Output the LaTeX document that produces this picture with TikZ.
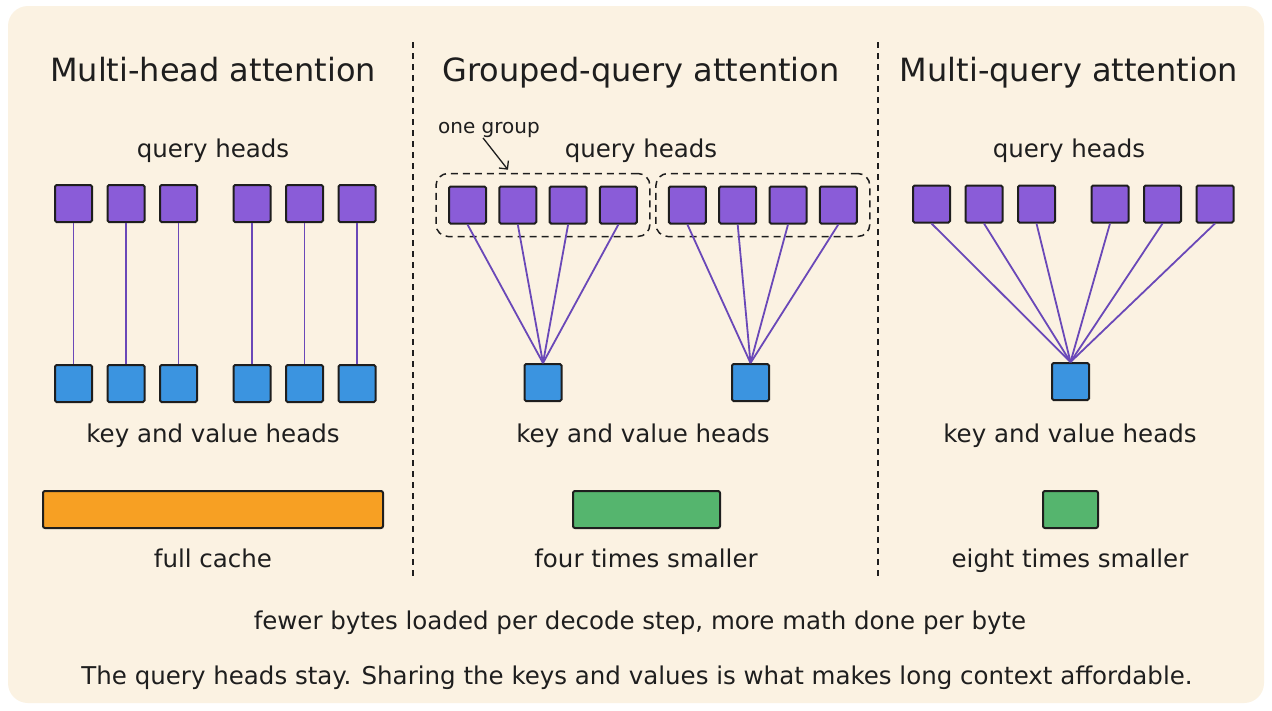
\documentclass[tikz,border=0pt]{standalone}
\usepackage{fontspec}
\setmainfont{DejaVu Sans}
\usetikzlibrary{arrows.meta,positioning,fit}

\definecolor{panelc}{HTML}{FBF2E2}
\definecolor{qheadc}{HTML}{8A5CD8}
\definecolor{kvheadc}{HTML}{3B94E0}
\definecolor{linkc}{HTML}{6A48B8}
\definecolor{fullc}{HTML}{F7A023}
\definecolor{smallc}{HTML}{55B56E}
\definecolor{inkc}{HTML}{1E1E1E}

\begin{document}
\begin{tikzpicture}[x=1pt, y=-1pt,
		qh/.style={draw=inkc, fill=qheadc, line width=2pt, rounded corners=1.5pt, minimum size=37pt, inner sep=0pt},
		kv/.style={qh, fill=kvheadc},
		cache/.style={draw=inkc, line width=2pt, rounded corners=2pt, minimum height=37pt, inner sep=0pt},
		txt/.style={text=inkc, text height=0.72em, text depth=0.22em, inner sep=0pt},
		title/.style={txt, font=\fontsize{32}{36}\selectfont, yshift=-9pt},
		lbl/.style={txt, font=\fontsize{24.5}{28}\selectfont, yshift=-7pt},
		small/.style={txt, font=\fontsize{20}{24}\selectfont, yshift=-5pt},
		link/.style={draw=linkc, line width=1.8pt},
		group/.style={draw=inkc, dash pattern=on 7pt off 5pt, line width=1.5pt, rounded corners=12pt, inner sep=12pt},
		sep/.style={draw=inkc, dash pattern=on 6pt off 5pt, line width=1.3pt},
		node distance=13.5pt
	]
		\useasboundingbox (0,0) rectangle (1272,710);
		\fill[white] (0,0) rectangle (1272,710);
		\fill[panelc, rounded corners=20pt] (8,6) rectangle (1264,703);

		% section separators
		\draw[sep] (413,42) -- (413,580);
		\draw[sep] (878,42) -- (878,580);

		% titles
		\node[title] (tmha) at (213,70) {Multi-head attention};
		\node[title] (tgqa) at (641,70) {Grouped-query attention};
		\node[title] (tmqa) at (1069,70) {Multi-query attention};

		\node[lbl] (qmha) at (213,148) {query heads};
		\node[lbl] (qgqa) at (641,148) {query heads};
		\node[lbl] (qmqa) at (1069,148) {query heads};

		% multi-head attention
		\node[qh] (mq1) at (73.5,203.5) {};
		\node[qh, right=of mq1] (mq2) {};
		\node[qh, right=of mq2] (mq3) {};
		\node[qh, right=34.5pt of mq3] (mq4) {};
		\node[qh, right=of mq4] (mq5) {};
		\node[qh, right=of mq5] (mq6) {};

		\node[kv, below=141pt of mq1] (mk1) {};
		\node[kv, below=141pt of mq2] (mk2) {};
		\node[kv, below=141pt of mq3] (mk3) {};
		\node[kv, below=141pt of mq4] (mk4) {};
		\node[kv, below=141pt of mq5] (mk5) {};
		\node[kv, below=141pt of mq6] (mk6) {};

		\draw[link] (mq1) -- (mk1);
		\draw[link] (mq2) -- (mk2);
		\draw[link] (mq3) -- (mk3);
		\draw[link] (mq4) -- (mk4);
		\draw[link] (mq5) -- (mk5);
		\draw[link] (mq6) -- (mk6);

		% grouped-query attention
		\node[qh] (gq1) at (467.5,205) {};
		\node[qh, right=11.3pt of gq1] (gq2) {};
		\node[qh, right=11.3pt of gq2] (gq3) {};
		\node[qh, right=11.3pt of gq3] (gq4) {};
		\node[qh, right=30pt of gq4] (gq5) {};
		\node[qh, right=11.3pt of gq5] (gq6) {};
		\node[qh, right=11.3pt of gq6] (gq7) {};
		\node[qh, right=11.3pt of gq7] (gq8) {};

		\node[group, fit=(gq1)(gq4)] (grp1) {};
		\node[group, fit=(gq5)(gq8)] (grp2) {};

		\node[kv] (gk1) at (543,382.5) {};
		\node[kv] (gk2) at (750.5,382.5) {};

		\draw[link] (gq1.south) -- (gk1.north);
		\draw[link] (gq2.south) -- (gk1.north);
		\draw[link] (gq3.south) -- (gk1.north);
		\draw[link] (gq4.south) -- (gk1.north);
		\draw[link] (gq5.south) -- (gk2.north);
		\draw[link] (gq6.south) -- (gk2.north);
		\draw[link] (gq7.south) -- (gk2.north);
		\draw[link] (gq8.south) -- (gk2.north);

		\node[small] (onegrp) at (489,126) {one group};
		\draw[-{Straight Barb[length=6pt]}, draw=inkc, line width=1.3pt] ([xshift=-6pt, yshift=-2pt]onegrp.south) -- ([xshift=-35pt, yshift=3pt]grp1.north);

		% multi-query attention
		\node[qh] (qq1) at (931.5,204) {};
		\node[qh, right=of qq1] (qq2) {};
		\node[qh, right=of qq2] (qq3) {};
		\node[qh, right=34.5pt of qq3] (qq4) {};
		\node[qh, right=of qq4] (qq5) {};
		\node[qh, right=of qq5] (qq6) {};

		\node[kv] (qk) at (1070.5,381.5) {};

		\draw[link] (qq1.south) -- (qk.north);
		\draw[link] (qq2.south) -- (qk.north);
		\draw[link] (qq3.south) -- (qk.north);
		\draw[link] (qq4.south) -- (qk.north);
		\draw[link] (qq5.south) -- (qk.north);
		\draw[link] (qq6.south) -- (qk.north);

		\node[lbl] (kmha) at (213,433) {key and value heads};
		\node[lbl] (kgqa) at (643,433) {key and value heads};
		\node[lbl] (kmqa) at (1070,433) {key and value heads};

		% kv cache size
		\node[cache, fill=fullc, minimum width=340pt] (cmha) at (213,509.5) {};
		\node[cache, fill=smallc, minimum width=147pt] (cgqa) at (646.5,509.5) {};
		\node[cache, fill=smallc, minimum width=55pt] (cmqa) at (1070.5,509.5) {};

		\node[lbl] (lmha) at (213,558) {full cache};
		\node[lbl] (lgqa) at (646,558) {four times smaller};
		\node[lbl] (lmqa) at (1070,558) {eight times smaller};

		\node[lbl] (note) at (640,620) {fewer bytes loaded per decode step, more math done per byte};
		\node[lbl] (sum) at (637,675) {The query heads stay. Sharing the keys and values is what makes long context affordable.};
	\end{tikzpicture}
\end{document}
